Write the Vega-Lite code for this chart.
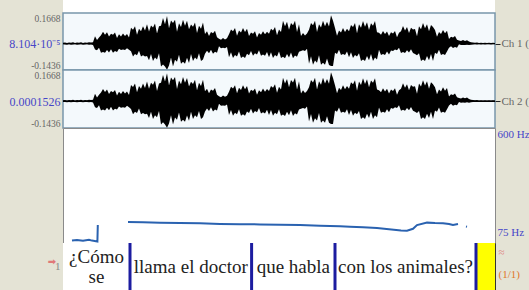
{
  "$schema": "https://vega.github.io/schema/vega-lite/v6.json",
  "autosize": {"type": "pad"},
  "padding": {"left": 8, "top": 0, "right": 0, "bottom": 0},
  "background": "#e4e3d5",
  "spacing": 0,
  "bounds": "flush",
  "config": {
    "axis": {"grid": false, "domain": false, "ticks": false, "labelFont": "Liberation Serif", "labelFontSize": 11, "labelColor": "#666666", "title": null},
    "text": {"font": "Liberation Serif"}
  },
  "datasets": {
    "wave": [
      {"t":0,"h":0.005,"l":-0.004},{"t":0.01,"h":0.006,"l":-0.005},{"t":0.02,"h":0.004,"l":-0.006},{"t":0.03,"h":0.006,"l":-0.004},{"t":0.04,"h":0.005,"l":-0.006},{"t":0.05,"h":0.007,"l":-0.005},{"t":0.06,"h":0.004,"l":-0.004},{"t":0.07,"h":0.006,"l":-0.006},{"t":0.08,"h":0.005,"l":-0.005},{"t":0.09,"h":0.007,"l":-0.004},
      {"t":0.1,"h":0.004,"l":-0.006},{"t":0.11,"h":0.006,"l":-0.005},{"t":0.12,"h":0.005,"l":-0.004},{"t":0.13,"h":0.007,"l":-0.006},{"t":0.14,"h":0.006,"l":-0.005},{"t":0.15,"h":0.008,"l":-0.007},{"t":0.16,"h":0.04,"l":-0.032},{"t":0.17,"h":0.02,"l":-0.036},{"t":0.18,"h":0.034,"l":-0.022},{"t":0.19,"h":0.046,"l":-0.05},
      {"t":0.2,"h":0.065,"l":-0.045},{"t":0.21,"h":0.049,"l":-0.05},{"t":0.22,"h":0.062,"l":-0.035},{"t":0.23,"h":0.039,"l":-0.048},{"t":0.24,"h":0.054,"l":-0.03},{"t":0.25,"h":0.048,"l":-0.05},{"t":0.26,"h":0.06,"l":-0.04},{"t":0.27,"h":0.03,"l":-0.045},{"t":0.28,"h":0.051,"l":-0.028},{"t":0.29,"h":0.039,"l":-0.035},
      {"t":0.3,"h":0.055,"l":-0.032},{"t":0.31,"h":0.041,"l":-0.035},{"t":0.32,"h":0.052,"l":-0.025},{"t":0.33,"h":0.033,"l":-0.033},{"t":0.34,"h":0.086,"l":-0.042},{"t":0.35,"h":0.076,"l":-0.07},{"t":0.36,"h":0.095,"l":-0.056},{"t":0.37,"h":0.048,"l":-0.063},{"t":0.38,"h":0.081,"l":-0.039},{"t":0.39,"h":0.067,"l":-0.07},
      {"t":0.4,"h":0.095,"l":-0.063},{"t":0.41,"h":0.071,"l":-0.07},{"t":0.42,"h":0.105,"l":-0.067},{"t":0.43,"h":0.066,"l":-0.09},{"t":0.44,"h":0.099,"l":-0.057},{"t":0.45,"h":0.088,"l":-0.095},{"t":0.46,"h":0.11,"l":-0.076},{"t":0.47,"h":0.055,"l":-0.086},{"t":0.48,"h":0.094,"l":-0.052},{"t":0.49,"h":0.098,"l":-0.125},
      {"t":0.5,"h":0.14,"l":-0.113},{"t":0.51,"h":0.105,"l":-0.125},{"t":0.52,"h":0.15,"l":-0.142},{"t":0.53,"h":0.084,"l":-0.119},{"t":0.54,"h":0.126,"l":-0.075},{"t":0.55,"h":0.112,"l":-0.125},{"t":0.56,"h":0.13,"l":-0.088},{"t":0.57,"h":0.065,"l":-0.099},{"t":0.58,"h":0.111,"l":-0.061},{"t":0.59,"h":0.091,"l":-0.11},
      {"t":0.6,"h":0.13,"l":-0.099},{"t":0.61,"h":0.098,"l":-0.11},{"t":0.62,"h":0.124,"l":-0.077},{"t":0.63,"h":0.078,"l":-0.105},{"t":0.64,"h":0.104,"l":-0.057},{"t":0.65,"h":0.092,"l":-0.095},{"t":0.66,"h":0.115,"l":-0.076},{"t":0.67,"h":0.058,"l":-0.086},{"t":0.68,"h":0.098,"l":-0.052},{"t":0.69,"h":0.081,"l":-0.095},
      {"t":0.7,"h":0.115,"l":-0.086},{"t":0.71,"h":0.053,"l":-0.055},{"t":0.72,"h":0.067,"l":-0.039},{"t":0.73,"h":0.042,"l":-0.052},{"t":0.74,"h":0.063,"l":-0.033},{"t":0.75,"h":0.056,"l":-0.055},{"t":0.76,"h":0.07,"l":-0.044},{"t":0.77,"h":0.035,"l":-0.05},{"t":0.78,"h":0.026,"l":-0.014},{"t":0.79,"h":0.021,"l":-0.025},
      {"t":0.8,"h":0.03,"l":-0.023},{"t":0.81,"h":0.023,"l":-0.025},{"t":0.82,"h":0.029,"l":-0.018},{"t":0.83,"h":0.051,"l":-0.074},{"t":0.84,"h":0.077,"l":-0.047},{"t":0.85,"h":0.068,"l":-0.078},{"t":0.86,"h":0.085,"l":-0.062},{"t":0.87,"h":0.043,"l":-0.07},{"t":0.88,"h":0.072,"l":-0.043},{"t":0.89,"h":0.06,"l":-0.078},
      {"t":0.9,"h":0.085,"l":-0.07},{"t":0.91,"h":0.064,"l":-0.078},{"t":0.92,"h":0.081,"l":-0.055},{"t":0.93,"h":0.041,"l":-0.063},{"t":0.94,"h":0.061,"l":-0.04},{"t":0.95,"h":0.054,"l":-0.066},{"t":0.96,"h":0.068,"l":-0.053},{"t":0.97,"h":0.034,"l":-0.059},{"t":0.98,"h":0.058,"l":-0.036},{"t":0.99,"h":0.048,"l":-0.066},
      {"t":1.0,"h":0.068,"l":-0.059},{"t":1.01,"h":0.051,"l":-0.066},{"t":1.02,"h":0.065,"l":-0.046},{"t":1.03,"h":0.054,"l":-0.074},{"t":1.04,"h":0.081,"l":-0.047},{"t":1.05,"h":0.072,"l":-0.078},{"t":1.06,"h":0.09,"l":-0.062},{"t":1.07,"h":0.045,"l":-0.07},{"t":1.08,"h":0.077,"l":-0.043},{"t":1.09,"h":0.063,"l":-0.078},
      {"t":1.1,"h":0.125,"l":-0.072},{"t":1.11,"h":0.094,"l":-0.08},{"t":1.12,"h":0.119,"l":-0.056},{"t":1.13,"h":0.075,"l":-0.076},{"t":1.14,"h":0.113,"l":-0.048},{"t":1.15,"h":0.1,"l":-0.08},{"t":1.16,"h":0.125,"l":-0.064},{"t":1.17,"h":0.063,"l":-0.072},{"t":1.18,"h":0.106,"l":-0.044},{"t":1.19,"h":0.041,"l":-0.04},
      {"t":1.2,"h":0.058,"l":-0.036},{"t":1.21,"h":0.044,"l":-0.04},{"t":1.22,"h":0.055,"l":-0.028},{"t":1.23,"h":0.075,"l":-0.109},{"t":1.24,"h":0.113,"l":-0.069},{"t":1.25,"h":0.1,"l":-0.115},{"t":1.26,"h":0.125,"l":-0.092},{"t":1.27,"h":0.063,"l":-0.104},{"t":1.28,"h":0.106,"l":-0.063},{"t":1.29,"h":0.088,"l":-0.115},
      {"t":1.3,"h":0.125,"l":-0.104},{"t":1.31,"h":0.094,"l":-0.115},{"t":1.32,"h":0.119,"l":-0.081},{"t":1.33,"h":0.093,"l":-0.116},{"t":1.34,"h":0.155,"l":-0.122},{"t":1.35,"h":0.124,"l":-0.122},{"t":1.36,"h":0.085,"l":-0.05},{"t":1.37,"h":0.043,"l":-0.056},{"t":1.38,"h":0.072,"l":-0.034},{"t":1.39,"h":0.06,"l":-0.062},
      {"t":1.4,"h":0.085,"l":-0.056},{"t":1.41,"h":0.064,"l":-0.062},{"t":1.42,"h":0.081,"l":-0.043},{"t":1.43,"h":0.067,"l":-0.074},{"t":1.44,"h":0.101,"l":-0.047},{"t":1.45,"h":0.09,"l":-0.078},{"t":1.46,"h":0.112,"l":-0.062},{"t":1.47,"h":0.056,"l":-0.07},{"t":1.48,"h":0.105,"l":-0.052},{"t":1.49,"h":0.086,"l":-0.095},
      {"t":1.5,"h":0.123,"l":-0.086},{"t":1.51,"h":0.092,"l":-0.095},{"t":1.52,"h":0.117,"l":-0.067},{"t":1.53,"h":0.074,"l":-0.09},{"t":1.54,"h":0.111,"l":-0.057},{"t":1.55,"h":0.098,"l":-0.095},{"t":1.56,"h":0.123,"l":-0.076},{"t":1.57,"h":0.062,"l":-0.086},{"t":1.58,"h":0.059,"l":-0.034},{"t":1.59,"h":0.048,"l":-0.062},
      {"t":1.6,"h":0.069,"l":-0.056},{"t":1.61,"h":0.052,"l":-0.062},{"t":1.62,"h":0.066,"l":-0.043},{"t":1.63,"h":0.041,"l":-0.059},{"t":1.64,"h":0.062,"l":-0.037},{"t":1.65,"h":0.055,"l":-0.04},{"t":1.66,"h":0.069,"l":-0.032},{"t":1.67,"h":0.035,"l":-0.036},{"t":1.68,"h":0.059,"l":-0.022},{"t":1.69,"h":0.067,"l":-0.051},
      {"t":1.7,"h":0.096,"l":-0.046},{"t":1.71,"h":0.072,"l":-0.051},{"t":1.72,"h":0.091,"l":-0.036},{"t":1.73,"h":0.058,"l":-0.048},{"t":1.74,"h":0.086,"l":-0.031},{"t":1.75,"h":0.077,"l":-0.051},{"t":1.76,"h":0.08,"l":-0.056},{"t":1.77,"h":0.04,"l":-0.063},{"t":1.78,"h":0.095,"l":-0.052},{"t":1.79,"h":0.078,"l":-0.095},
      {"t":1.8,"h":0.112,"l":-0.086},{"t":1.81,"h":0.084,"l":-0.095},{"t":1.82,"h":0.106,"l":-0.067},{"t":1.83,"h":0.067,"l":-0.09},{"t":1.84,"h":0.101,"l":-0.057},{"t":1.85,"h":0.09,"l":-0.095},{"t":1.86,"h":0.074,"l":-0.05},{"t":1.87,"h":0.037,"l":-0.056},{"t":1.88,"h":0.063,"l":-0.034},{"t":1.89,"h":0.052,"l":-0.062},
      {"t":1.9,"h":0.074,"l":-0.056},{"t":1.91,"h":0.056,"l":-0.062},{"t":1.92,"h":0.07,"l":-0.043},{"t":1.93,"h":0.025,"l":-0.023},{"t":1.94,"h":0.037,"l":-0.014},{"t":1.95,"h":0.033,"l":-0.024},{"t":1.96,"h":0.041,"l":-0.019},{"t":1.97,"h":0.021,"l":-0.022},{"t":1.98,"h":0.017,"l":-0.004},{"t":1.99,"h":0.014,"l":-0.008},
      {"t":2.0,"h":0.02,"l":-0.007},{"t":2.01,"h":0.015,"l":-0.008},{"t":2.02,"h":0.019,"l":-0.006},{"t":2.03,"h":0.012,"l":-0.008},{"t":2.04,"h":0.008,"l":-0.006},{"t":2.05,"h":0.006,"l":-0.005},{"t":2.06,"h":0.005,"l":-0.004},{"t":2.07,"h":0.006,"l":-0.005},{"t":2.08,"h":0.004,"l":-0.004},{"t":2.09,"h":0.005,"l":-0.005},
      {"t":2.1,"h":0.004,"l":-0.004},{"t":2.11,"h":0.005,"l":-0.005},{"t":2.12,"h":0.004,"l":-0.004},{"t":2.13,"h":0.005,"l":-0.004},{"t":2.14,"h":0.004,"l":-0.005},{"t":2.15,"h":0.005,"l":-0.004},{"t":2.16,"h":0.004,"l":-0.004}
    ],
    "pitch": [
      {"s":"a","t":0.045,"f":86},{"s":"a","t":0.07,"f":89},{"s":"a","t":0.1,"f":85},{"s":"a","t":0.13,"f":90},{"s":"a","t":0.145,"f":86},{"s":"a","t":0.165,"f":83},{"s":"a","t":0.172,"f":82},{"s":"a","t":0.174,"f":157},
      {"s":"b","t":0.325,"f":171},{"s":"b","t":0.4,"f":170},{"s":"b","t":0.485,"f":168},{"s":"b","t":0.585,"f":166},{"s":"b","t":0.685,"f":165},{"s":"b","t":0.785,"f":162},{"s":"b","t":0.885,"f":161},{"s":"b","t":0.985,"f":160},{"s":"b","t":1.085,"f":158},{"s":"b","t":1.185,"f":157},{"s":"b","t":1.285,"f":154},{"s":"b","t":1.385,"f":151},{"s":"b","t":1.435,"f":149},{"s":"b","t":1.5,"f":147},{"s":"b","t":1.57,"f":143},{"s":"b","t":1.63,"f":138},{"s":"b","t":1.69,"f":132},{"s":"b","t":1.72,"f":131},{"s":"b","t":1.75,"f":140},{"s":"b","t":1.77,"f":157},{"s":"b","t":1.82,"f":168},{"s":"b","t":1.86,"f":166},{"s":"b","t":1.9,"f":165},{"s":"b","t":1.93,"f":162},{"s":"b","t":1.95,"f":157},{"s":"b","t":1.975,"f":162},
      {"s":"c","t":2.015,"f":150},{"s":"c","t":2.02,"f":149}
    ],
    "tier": [
      {"s":0,"e":0.335,"m":0.1675,"lab":"¿Cómo\nse","st":"n"},
      {"s":0.335,"e":0.943,"m":0.639,"lab":"llama el doctor","st":"n"},
      {"s":0.943,"e":1.36,"m":1.1515,"lab":"que habla","st":"n"},
      {"s":1.36,"e":2.065,"m":1.7125,"lab":"con los animales?","st":"n"},
      {"s":2.065,"e":2.16,"m":2.1125,"lab":"","st":"y"}
    ]
  },
  "vconcat": [
    {
      "width": 432, "height": 13,
      "view": {"fill": "#ffffff", "stroke": null},
      "data": {"values": [{}]},
      "mark": {"type": "text"},
      "encoding": {"text": {"value": ""}}
    },
    {
      "width": 432, "height": 57,
      "view": {"fill": "#f4f9fc", "stroke": "#7896aa", "strokeWidth": 1.5},
      "layer": [
        {
          "data": {"name": "wave"},
          "mark": {"type": "area", "color": "#000000", "interpolate": "linear"},
          "encoding": {
            "x": {"field": "t", "type": "quantitative", "scale": {"domain": [0, 2.16], "nice": false, "zero": false}, "axis": null},
            "y": {"field": "h", "type": "quantitative", "scale": {"domain": [-0.1436, 0.1668], "nice": false, "zero": false},
              "axis": {"orient": "left", "values": [-0.1436, 0.000081, 0.1668], "labelFlush": true, "labelPadding": 3,
                "labelExpr": "datum.value > 0.1 ? '0.1668' : datum.value < -0.1 ? '-0.1436' : '8.104·10⁻⁵'",
                "labelFontSize": {"condition": {"test": "abs(datum.value) < 0.01", "value": 12}, "value": 9.5},
                "labelColor": {"condition": {"test": "abs(datum.value) < 0.01", "value": "#4646c8"}, "value": "#666666"}}},
            "y2": {"field": "l"}
          }
        },
        {
          "data": {"values": [{}]},
          "mark": {"type": "rule", "color": "#000000", "strokeWidth": 1},
          "encoding": {
            "y": {"datum": 0, "type": "quantitative",
              "axis": {"orient": "right", "values": [0], "labelExpr": "'Ch 1 (left)'", "ticks": true, "tickSize": 5, "tickColor": "#222222", "labelPadding": 1, "labelColor": "#666666"}}
          }
        }
      ],
      "resolve": {"axis": {"y": "independent"}}
    },
    {
      "width": 432, "height": 58,
      "view": {"fill": "#f4f9fc", "stroke": "#7896aa", "strokeWidth": 1.5},
      "layer": [
        {
          "data": {"name": "wave"},
          "mark": {"type": "area", "color": "#000000", "interpolate": "linear"},
          "encoding": {
            "x": {"field": "t", "type": "quantitative", "scale": {"domain": [0, 2.16], "nice": false, "zero": false}, "axis": null},
            "y": {"field": "h", "type": "quantitative", "scale": {"domain": [-0.1436, 0.1668], "nice": false, "zero": false},
              "axis": {"orient": "left", "values": [-0.1436, 0.0001526, 0.1668], "labelFlush": true, "labelPadding": 3,
                "labelExpr": "datum.value > 0.1 ? '0.1668' : datum.value < -0.1 ? '-0.1436' : '0.0001526'",
                "labelFontSize": {"condition": {"test": "abs(datum.value) < 0.01", "value": 12}, "value": 9.5},
                "labelColor": {"condition": {"test": "abs(datum.value) < 0.01", "value": "#4646c8"}, "value": "#666666"}}},
            "y2": {"field": "l"}
          }
        },
        {
          "data": {"values": [{}]},
          "mark": {"type": "rule", "color": "#000000", "strokeWidth": 1},
          "encoding": {
            "y": {"datum": 0, "type": "quantitative",
              "axis": {"orient": "right", "values": [0], "labelExpr": "'Ch 2 (right)'", "ticks": true, "tickSize": 5, "tickColor": "#222222", "labelPadding": 1, "labelColor": "#666666"}}
          }
        }
      ],
      "resolve": {"axis": {"y": "independent"}}
    },
    {
      "width": 432, "height": 115,
      "view": {"fill": "#ffffff", "stroke": "#8a8a8a", "strokeWidth": 1},
      "data": {"name": "pitch"},
      "mark": {"type": "line", "color": "#2a62b0", "strokeWidth": 2},
      "encoding": {
        "x": {"field": "t", "type": "quantitative", "scale": {"domain": [0, 2.16], "nice": false, "zero": false}, "axis": null},
        "y": {"field": "f", "type": "quantitative", "scale": {"domain": [75, 600], "nice": false, "zero": false},
          "axis": {"orient": "right", "values": [75, 600], "labelFlush": true, "labelExpr": "datum.value + ' Hz'", "labelColor": "#4646c8", "labelPadding": 2,
            "labelOffset": {"condition": {"test": "datum.value < 100", "value": -6}, "value": 0}}},
        "detail": {"field": "s"}
      }
    },
    {
      "width": 432, "height": 47,
      "view": {"fill": "#ffffff", "stroke": "#333333", "strokeWidth": 1},
      "layer": [
        {
          "data": {"name": "tier"},
          "mark": {"type": "rect"},
          "encoding": {
            "x": {"field": "s", "type": "quantitative", "scale": {"domain": [0, 2.16], "nice": false, "zero": false}, "axis": null},
            "x2": {"field": "e"},
            "y": {"datum": 0, "type": "quantitative", "scale": {"domain": [0, 1], "nice": false},
              "axis": {"orient": "right", "values": [0.32, 0.8], "labelExpr": "datum.value < 0.5 ? '(1/1)' : '≈'", "labelPadding": 3,
                "labelColor": {"condition": {"test": "datum.value < 0.5", "value": "#e0762a"}, "value": "#e07a7a"}}},
            "y2": {"datum": 1},
            "fill": {"field": "st", "type": "nominal", "scale": {"domain": ["n", "y"], "range": ["#ffffff", "#ffff00"]}, "legend": null}
          }
        },
        {
          "data": {"name": "tier"},
          "transform": [{"filter": "datum.s > 0"}],
          "mark": {"type": "rule", "color": "#1c1ca0", "strokeWidth": 3},
          "encoding": {
            "x": {"field": "s", "type": "quantitative"}
          }
        },
        {
          "data": {"name": "tier"},
          "transform": [{"filter": "datum.s > 0"}],
          "mark": {"type": "text", "font": "Liberation Serif", "fontSize": 19, "color": "#222222", "baseline": "middle", "align": "center"},
          "encoding": {
            "x": {"field": "m", "type": "quantitative"},
            "y": {"datum": 0.5, "type": "quantitative",
              "axis": {"orient": "left", "values": [0.5], "labelExpr": "'1'", "labelPadding": 3, "labelColor": "#888888",
                "title": "➡", "titleAngle": 0, "titleColor": "#e07878", "titleFontSize": 10, "titlePadding": 3, "titleFont": "DejaVu Sans"}},
            "text": {"field": "lab"}
          }
        },
        {
          "data": {"name": "tier"},
          "transform": [{"filter": "datum.s == 0"}],
          "mark": {"type": "text", "font": "Liberation Serif", "fontSize": 19, "color": "#222222", "lineBreak": "\n", "lineHeight": 20, "baseline": "middle", "align": "center"},
          "encoding": {
            "x": {"field": "m", "type": "quantitative"},
            "y": {"datum": 0.71, "type": "quantitative", "axis": null},
            "text": {"field": "lab"}
          }
        }
      ],
      "resolve": {"axis": {"y": "independent"}}
    }
  ]
}
